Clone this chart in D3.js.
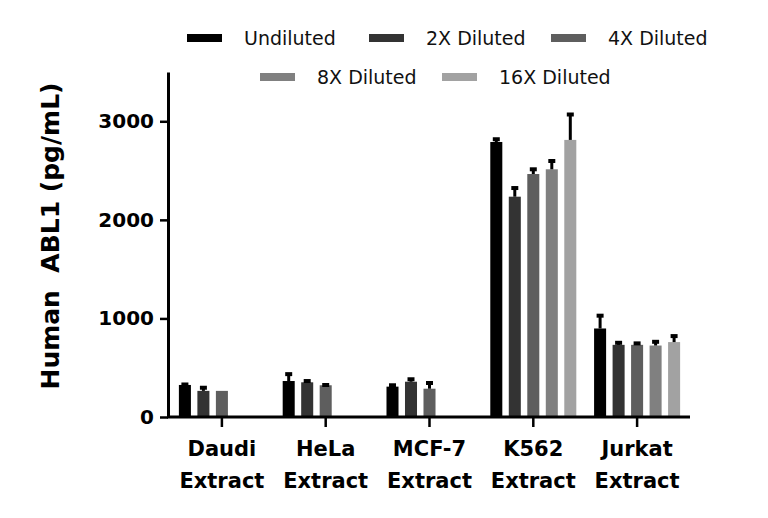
<!DOCTYPE html>
<html>
<head>
<meta charset="utf-8">
<script src="https://cdn.jsdelivr.net/npm/d3@7"></script>
<style>
  body { margin: 0; background: #fff; }
  svg { display: block; }
  text { font-family: "DejaVu Sans", sans-serif; }
</style>
</head>
<body>
<svg id="chart" width="768" height="518"></svg>
<script>
const categories = ["Daudi", "HeLa", "MCF-7", "K562", "Jurkat"];
const series = ["Undiluted", "2X Diluted", "4X Diluted", "8X Diluted", "16X Diluted"];
const colors = ["#000000", "#333333", "#5e5e5e", "#808080", "#a2a2a2"];

// mean values per category, one entry per dilution (null = not measured)
const means = {
  "Daudi":  [325, 265, 265, null, null],
  "HeLa":   [365, 352, 322, null, null],
  "MCF-7":  [308, 358, 287, null, null],
  "K562":   [2790, 2235, 2465, 2513, 2811],
  "Jurkat": [898, 732, 732, 725, 760]
};
// upper error (SD)
const errors = {
  "Daudi":  [15, 42, 0, null, null],
  "HeLa":   [80, 23, 13, null, null],
  "MCF-7":  [24, 35, 68, null, null],
  "K562":   [38, 98, 58, 94, 268],
  "Jurkat": [140, 31, 25, 48, 71]
};
const yTicks = [0, 1000, 2000, 3000];

const svg = d3.select("#chart");

const x0 = d3.scaleBand().domain(categories).range([170, 689]);
const x1 = d3.scaleBand().domain(series).range([-46.25, 46.25]).paddingInner(0.35).paddingOuter(0.175);
const y = d3.scaleLinear().domain([0, 3500]).range([417, 72]);
const color = d3.scaleOrdinal().domain(series).range(colors);

const rows = [];
categories.forEach(c => {
  series.forEach((s, i) => {
    if (means[c][i] != null) rows.push({ cat: c, ser: s, v: means[c][i], e: errors[c][i] });
  });
});
const cx = d => x0(d.cat) + x0.bandwidth() / 2 + x1(d.ser) + x1.bandwidth() / 2;

// bars
svg.append("g").selectAll("rect").data(rows).enter().append("rect")
  .attr("x", d => cx(d) - x1.bandwidth() / 2)
  .attr("y", d => y(d.v))
  .attr("width", x1.bandwidth())
  .attr("height", d => y(0) - y(d.v))
  .attr("fill", d => color(d.ser));

// error bars (upper only)
const eb = svg.append("g").selectAll("g").data(rows.filter(d => d.e > 0)).enter().append("g");
eb.append("line")
  .attr("x1", cx).attr("x2", cx)
  .attr("y1", d => y(d.v)).attr("y2", d => y(d.v + d.e))
  .attr("stroke", "#000").attr("stroke-width", 3);
eb.append("line")
  .attr("x1", d => cx(d) - 3.5).attr("x2", d => cx(d) + 3.5)
  .attr("y1", d => y(d.v + d.e) + 1).attr("y2", d => y(d.v + d.e) + 1)
  .attr("stroke", "#000").attr("stroke-width", 4);

// y axis
const yAxis = svg.append("g").attr("transform", "translate(168,0)")
  .call(d3.axisLeft(y).tickValues(yTicks).tickFormat(d3.format("d"))
    .tickSize(8).tickSizeOuter(0).tickPadding(6));
yAxis.select(".domain").attr("stroke-width", 3);
yAxis.selectAll(".tick line").attr("stroke-width", 2.5);
yAxis.selectAll(".tick text").attr("font-size", 20).attr("font-weight", "bold")
  .attr("fill", "#000").style("font-family", "DejaVu Sans, sans-serif");

// x axis
const xAxis = svg.append("g").attr("transform", "translate(0,417)")
  .call(d3.axisBottom(x0).tickSize(10).tickSizeOuter(0).tickFormat(""));
xAxis.select(".domain").attr("d", "M167,0H690").attr("stroke-width", 3);
xAxis.selectAll(".tick line").attr("stroke-width", 2.5);

// category labels, two lines
const lab = svg.append("g").selectAll("text").data(categories).enter().append("text")
  .attr("text-anchor", "middle").attr("font-size", 21).attr("font-weight", "bold");
lab.append("tspan").attr("x", d => x0(d) + x0.bandwidth() / 2).attr("y", 456).text(d => d);
lab.append("tspan").attr("x", d => x0(d) + x0.bandwidth() / 2).attr("y", 488).text("Extract");

// y title
svg.append("text")
  .attr("transform", "translate(59,236) rotate(-90)")
  .attr("text-anchor", "middle").attr("font-size", 25).attr("font-weight", "bold")
  .style("white-space", "pre")
  .text("Human  ABL1 (pg/mL)");

// legend: 3 items in first row, 2 in second
const pitch = 182;
const leg = svg.append("g").selectAll("g").data(series).enter().append("g")
  .attr("transform", (d, i) => i < 3
    ? `translate(${187 + i * pitch},38)`
    : `translate(${260 + (i - 3) * pitch},77)`);
leg.append("rect").attr("x", 0).attr("y", -4).attr("width", 35).attr("height", 8)
  .attr("fill", d => color(d));
leg.append("text").attr("x", 57).attr("y", 7).attr("font-size", 19).attr("fill", "#111").text(d => d);
</script>
</body>
</html>
